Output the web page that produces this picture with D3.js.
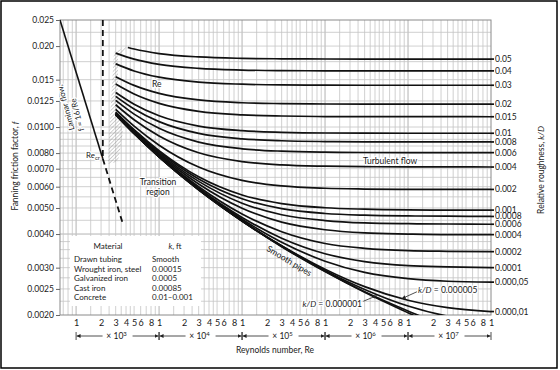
<!DOCTYPE html>
<html>
<head>
<meta charset="utf-8">
<style>
    body, html {
        margin: 0;
        padding: 0;
        background: #fff;
    }
    svg { display: block; }
    text {
        font-family: Lato, "Open Sans", "DejaVu Sans", sans-serif;
        fill: #1a1a1a;
    }
    .halo {
        stroke: #fff;
        stroke-width: 2.5px;
        paint-order: stroke;
        stroke-linejoin: round;
    }
</style>
</head>
<body>
<svg width="560" height="370"></svg>

<script src="https://cdn.jsdelivr.net/npm/d3@7/dist/d3.min.js"></script>
<script>
    var reGrid    = [3000, 5000, 1e4, 3e4, 1e5, 3e5, 1e6, 3e6, 1e7, 3e7, 1e8];
    var reGridTop = [4200, 5000, 1e4, 3e4, 1e5, 3e5, 1e6, 3e6, 1e7, 3e7, 1e8];

    // relative roughness labels (right side), top curve first
    var roughnessLabels = ["0.05", "0.04", "0.03", "0.02", "0.015", "0.01", "0.008", "0.006",
        "0.004", "0.002", "0.001", "0.0008", "0.0006", "0.0004", "0.0002", "0.0001",
        "0.000,05", "0.000,01"];

    // Fanning friction factor read along reGrid for each curve
    var frictionCurves = [
        [0.01976, 0.01950, 0.01876, 0.01822, 0.01800, 0.01793, 0.01790, 0.01789, 0.01789, 0.01789, 0.01789], // 0.05
        [0.01883, 0.01788, 0.01710, 0.01652, 0.01629, 0.01621, 0.01618, 0.01617, 0.01617, 0.01617, 0.01617], // 0.04
        [0.01717, 0.01616, 0.01532, 0.01468, 0.01443, 0.01434, 0.01431, 0.01430, 0.01430, 0.01430, 0.01430], // 0.03
        [0.01539, 0.01428, 0.01334, 0.01261, 0.01231, 0.01222, 0.01218, 0.01217, 0.01216, 0.01216, 0.01216], // 0.02
        [0.01444, 0.01326, 0.01224, 0.01143, 0.01110, 0.01099, 0.01094, 0.01093, 0.01093, 0.01093, 0.01092], // 0.015
        [0.01343, 0.01215, 0.01101, 0.01008, 0.00969, 0.00956, 0.00950, 0.00949, 0.00948, 0.00948, 0.00948], // 0.01
        [0.01300, 0.01167, 0.01047, 0.00947, 0.00904, 0.00889, 0.00883, 0.00881, 0.00880, 0.00880, 0.00880], // 0.008
        [0.01256, 0.01117, 0.00989, 0.00879, 0.00830, 0.00813, 0.00806, 0.00804, 0.00803, 0.00803, 0.00803], // 0.006
        [0.01210, 0.01064, 0.00926, 0.00802, 0.00744, 0.00723, 0.00715, 0.00712, 0.00711, 0.00711, 0.00710], // 0.004
        [0.01162, 0.01007, 0.00856, 0.00710, 0.00633, 0.00604, 0.00592, 0.00588, 0.00586, 0.00586, 0.00586], // 0.002
        [0.01137, 0.00977, 0.00817, 0.00653, 0.00559, 0.00519, 0.00501, 0.00495, 0.00492, 0.00491, 0.00491], // 0.001
        [0.01132, 0.00971, 0.00809, 0.00641, 0.00541, 0.00497, 0.00477, 0.00470, 0.00467, 0.00466, 0.00465], // 0.0008
        [0.01127, 0.00965, 0.00800, 0.00628, 0.00521, 0.00472, 0.00449, 0.00440, 0.00437, 0.00436, 0.00435], // 0.0006
        [0.01122, 0.00959, 0.00792, 0.00614, 0.00499, 0.00443, 0.00415, 0.00404, 0.00400, 0.00398, 0.00398], // 0.0004
        [0.01117, 0.00952, 0.00783, 0.00600, 0.00475, 0.00408, 0.00369, 0.00354, 0.00347, 0.00345, 0.00344], // 0.0002
        [0.01114, 0.00949, 0.00779, 0.00592, 0.00461, 0.00386, 0.00338, 0.00316, 0.00305, 0.00302, 0.00300], // 0.0001
        [0.01113, 0.00948, 0.00777, 0.00588, 0.00454, 0.00373, 0.00317, 0.00288, 0.00273, 0.00267, 0.00265], // 0.00005
        [0.01112, 0.00946, 0.00775, 0.00585, 0.00448, 0.00362, 0.00296, 0.00255, 0.00227, 0.00213, 0.00206], // 0.00001
        [0.01112, 0.00946, 0.00774, 0.00585, 0.00447, 0.00361, 0.00293, 0.00249, 0.00216, 0.00198, 0.00188], // 0.000005
        [0.01112, 0.00946, 0.00774, 0.00584, 0.00447, 0.00360, 0.00291, 0.00244, 0.00207, 0.00181, 0.00163], // 0.000001
        [0.01112, 0.00946, 0.00774, 0.00584, 0.00447, 0.00359, 0.00290, 0.00243, 0.00204, 0.00175, 0.00151]  // smooth
    ];

    // laminar flow f = 16/Re, solid up to Re_cr, dashed beyond
    var laminarRe = [640, 2100];
    var laminarF = [0.025, 0.00762];
    var laminarDashRe = [2100, 3600];
    var laminarDashF = [0.00762, 0.00444];
    var criticalRe = 2100;

    // critical zone (hatched)
    var hatchRe = [2860, 4100, 3200, 3200, 3670, 3200, 2420, 2560];
    var hatchF = [0.0190, 0.0199, 0.01806, 0.01138, 0.00959, 0.00742, 0.00729, 0.01062];

    var yTickValues = [0.025, 0.02, 0.015, 0.0125, 0.01, 0.008, 0.007, 0.006, 0.005, 0.004, 0.003, 0.0025, 0.002];
    var yTickLabels = ["0.025", "0.020", "0.015", "0.0125", "0.0100", "0.0080", "0.0070", "0.0060",
        "0.0050", "0.0040", "0.0030", "0.0025", "0.0020"];

    var xDecades = [3, 4, 5, 6, 7];
    var xTickDigits = [1, 2, 3, 4, 5, 6, 8];

    var materials = ["Drawn tubing", "Wrought iron, steel", "Galvanized iron", "Cast iron", "Concrete"];
    var materialK = ["Smooth", "0.00015", "0.0005", "0.00085", "0.01\u20130.001"];

    var svg = d3.select("svg");
    var pLeft = 60, pRight = 491, pTop = 20, pBottom = 315;

    var x = d3.scaleLog().domain([640, 1e8]).range([pLeft, pRight]);
    var y = d3.scaleLog().domain([0.002, 0.025]).range([pBottom, pTop]);

    var defs = svg.append("defs");
    defs.append("clipPath").attr("id", "plotclip")
        .append("rect").attr("x", pLeft).attr("y", pTop - 2)
        .attr("width", pRight - pLeft).attr("height", pBottom - pTop + 2);

    var pat = defs.append("pattern").attr("id", "hatch")
        .attr("patternUnits", "userSpaceOnUse")
        .attr("width", 2.6).attr("height", 2.6)
        .attr("patternTransform", "rotate(45)");
    pat.append("line").attr("x1", 0).attr("y1", 0).attr("x2", 0).attr("y2", 2.6)
        .attr("stroke", "#8c8c8c").attr("stroke-width", 0.8);

    defs.append("marker").attr("id", "arr")
        .attr("viewBox", "0 0 6 6").attr("refX", 6).attr("refY", 3)
        .attr("markerWidth", 5).attr("markerHeight", 5).attr("orient", "auto")
        .append("path").attr("d", "M0,0L6,3L0,6Z").attr("fill", "#222");

    // ---------- GRID ----------
    var gridMult = [1, 1.5, 2, 2.5, 3, 3.5, 4, 4.5, 5, 6, 7, 8, 9];
    var gridRe = [];
    [1e2, 1e3, 1e4, 1e5, 1e6, 1e7].forEach(function(dec) {
        gridMult.forEach(function(m) {
            var v = dec * m;
            if (v > 640 && v < 1e8) gridRe.push(v);
        });
    });
    var gridF = d3.range(0.00225, 0.004, 0.00025)
        .concat(d3.range(0.004, 0.01, 0.0005), d3.range(0.01, 0.0249, 0.0025));

    var grid = svg.append("g");
    grid.selectAll(".gx").data(gridRe).enter().append("line")
        .attr("x1", function(d) { return x(d); }).attr("x2", function(d) { return x(d); })
        .attr("y1", pTop).attr("y2", pBottom)
        .attr("stroke", function(d) { return Math.abs(Math.log10(d) % 1) < 1e-6 ? "#a0a0a0" : "#c4c4c4"; })
        .attr("stroke-width", 0.8);
    grid.selectAll(".gy").data(gridF).enter().append("line")
        .attr("x1", pLeft).attr("x2", pRight)
        .attr("y1", function(d) { return y(d); }).attr("y2", function(d) { return y(d); })
        .attr("stroke", "#c4c4c4").attr("stroke-width", 0.8);

    // plot frame
    svg.append("rect").attr("x", pLeft).attr("y", pTop)
        .attr("width", pRight - pLeft).attr("height", pBottom - pTop)
        .attr("fill", "none").attr("stroke", "#8a8a8a").attr("stroke-width", 1);

    // ---------- AXES ----------
    var yAxis = d3.axisLeft(y).tickValues(yTickValues)
        .tickFormat(function(d, i) { return yTickLabels[i]; })
        .tickSize(4).tickPadding(2);
    var gy = svg.append("g").attr("transform", "translate(" + pLeft + ",0)").call(yAxis);
    gy.select(".domain").remove();
    gy.selectAll(".tick line").attr("stroke", "#666");
    gy.selectAll(".tick text").attr("font-size", "8.5px").attr("fill", "#222")
        .style("font-family", "Lato, 'Open Sans', sans-serif");

    var xTickValues = [];
    xDecades.forEach(function(n) {
        xTickDigits.forEach(function(dg) { xTickValues.push(dg * Math.pow(10, n)); });
    });
    xTickValues.push(1e8);

    var xAxis = d3.axisBottom(x).tickValues(xTickValues)
        .tickFormat(function(d) { return String(Math.round(d / Math.pow(10, Math.floor(Math.log10(d) + 1e-9)))); })
        .tickSize(0).tickPadding(5);
    var gx = svg.append("g").attr("transform", "translate(0," + pBottom + ")").call(xAxis);
    gx.select(".domain").remove();
    gx.selectAll(".tick text").attr("font-size", "9px").attr("fill", "#222")
        .style("font-family", "Lato, 'Open Sans', sans-serif");

    // decade brackets "x 10^n"
    var brk = svg.append("g");
    var by = 336;
    xDecades.forEach(function(n) {
        var x0 = x(Math.pow(10, n)), x1 = x(Math.pow(10, n + 1)), cx = (x0 + x1) / 2;
        brk.append("line").attr("x1", x0).attr("x2", x0).attr("y1", by - 4).attr("y2", by + 4)
            .attr("stroke", "#222").attr("stroke-width", 0.8);
        brk.append("line").attr("x1", x1).attr("x2", x1).attr("y1", by - 4).attr("y2", by + 4)
            .attr("stroke", "#222").attr("stroke-width", 0.8);
        brk.append("line").attr("x1", cx - 15).attr("x2", x0 + 0.5).attr("y1", by).attr("y2", by)
            .attr("stroke", "#222").attr("stroke-width", 0.8).attr("marker-end", "url(#arr)");
        brk.append("line").attr("x1", cx + 15).attr("x2", x1 - 0.5).attr("y1", by).attr("y2", by)
            .attr("stroke", "#222").attr("stroke-width", 0.8).attr("marker-end", "url(#arr)");
        var t = brk.append("text").attr("x", cx - 1).attr("y", by + 3)
            .attr("text-anchor", "middle").attr("font-size", "8.5px");
        t.append("tspan").text("\u00d7 10");
        t.append("tspan").attr("dy", -3.5).attr("font-size", "6px").text(n);
    });

    // axis titles
    svg.append("text").attr("x", 275).attr("y", 353).attr("text-anchor", "middle")
        .attr("font-size", "8.5px").text("Reynolds number, Re");

    var yt = svg.append("text").attr("transform", "translate(18,166) rotate(-90)")
        .attr("text-anchor", "middle").attr("font-size", "8.5px");
    yt.append("tspan").text("Fanning friction factor, ");
    yt.append("tspan").attr("font-style", "italic").text("f");

    var rt = svg.append("text").attr("transform", "translate(544,170) rotate(-90)")
        .attr("text-anchor", "middle").attr("font-size", "8.5px");
    rt.append("tspan").text("Relative roughness, ");
    rt.append("tspan").attr("font-style", "italic").text("k/D");

    // ---------- MARKS ----------
    var plot = svg.append("g").attr("clip-path", "url(#plotclip)");

    plot.append("polygon")
        .attr("points", hatchRe.map(function(r, i) { return x(r) + "," + y(hatchF[i]); }).join(" "))
        .attr("fill", "url(#hatch)").attr("stroke", "none");

    var line = d3.line()
        .x(function(d) { return x(d[0]); })
        .y(function(d) { return y(d[1]); })
        .curve(d3.curveMonotoneX);

    plot.selectAll(".curve").data(frictionCurves).enter().append("path")
        .attr("d", function(vals, i) {
            var res = i === 0 ? reGridTop : reGrid;
            return line(vals.map(function(f, j) { return [res[j], f]; }));
        })
        .attr("fill", "none").attr("stroke", "#111").attr("stroke-width", 1.7);

    // laminar line
    plot.append("path")
        .attr("d", d3.line()(laminarRe.map(function(r, i) { return [x(r), y(laminarF[i])]; })))
        .attr("fill", "none").attr("stroke", "#111").attr("stroke-width", 1.6);
    plot.append("path")
        .attr("d", d3.line()(laminarDashRe.map(function(r, i) { return [x(r), y(laminarDashF[i])]; })))
        .attr("fill", "none").attr("stroke", "#111").attr("stroke-width", 1.8)
        .attr("stroke-dasharray", "6,4");
    plot.append("line")
        .attr("x1", x(criticalRe)).attr("x2", x(criticalRe))
        .attr("y1", y(0.025)).attr("y2", y(laminarF[1]))
        .attr("stroke", "#111").attr("stroke-width", 1.8).attr("stroke-dasharray", "6,4");

    // right-hand ticks and labels
    var rl = svg.append("g");
    roughnessLabels.forEach(function(lab, i) {
        var f = frictionCurves[i][frictionCurves[i].length - 1];
        rl.append("line").attr("x1", pRight).attr("x2", pRight + 3)
            .attr("y1", y(f)).attr("y2", y(f)).attr("stroke", "#111").attr("stroke-width", 1.7);
        rl.append("text").attr("x", pRight + 4).attr("y", y(f)).attr("dy", "0.35em")
            .attr("font-size", "8.5px").text(lab);
    });

    // ---------- ANNOTATIONS ----------
    var ann = svg.append("g").attr("font-size", "8.5px");

    ann.append("text").attr("class", "halo")
        .attr("transform", "translate(" + x(750) + "," + y(0.0118) + ") rotate(-105)")
        .attr("text-anchor", "middle").attr("dy", "0.35em").attr("font-size", "8px").text("Laminar flow,");
    ann.append("text").attr("class", "halo")
        .attr("transform", "translate(" + x(1030) + "," + y(0.0111) + ") rotate(-105)")
        .attr("text-anchor", "middle").attr("dy", "0.35em").attr("font-size", "8px").text("f = 16/Re");

    var rc = ann.append("text").attr("class", "halo")
        .attr("x", x(1316)).attr("y", y(0.0077)).attr("font-size", "8px");
    rc.append("tspan").text("Re");
    rc.append("tspan").attr("dy", 2).attr("font-size", "6px").text("cr");

    ann.append("text").attr("class", "halo")
        .attr("x", x(8200)).attr("y", y(0.01445)).attr("dy", "0.35em").text("Re");

    ann.append("text").attr("class", "halo")
        .attr("x", x(9700)).attr("y", y(0.00609)).attr("text-anchor", "middle").text("Transition");
    ann.append("text").attr("class", "halo")
        .attr("x", x(9700)).attr("y", y(0.00559)).attr("text-anchor", "middle").text("region");

    ann.append("text").attr("class", "halo")
        .attr("x", x(2.86e6)).attr("y", y(0.0075)).attr("dy", "0.35em").text("Turbulent flow");

    ann.append("text")
        .attr("transform", "translate(" + x(3.7e5) + "," + y(0.00318) + ") rotate(31)")
        .attr("text-anchor", "middle").attr("dy", "0.35em").text("Smooth pipes");

    var k1 = ann.append("text").attr("class", "halo")
        .attr("x", x(2.79e6)).attr("y", y(0.0022)).attr("text-anchor", "end").attr("dy", "0.35em");
    k1.append("tspan").attr("font-style", "italic").text("k/D");
    k1.append("tspan").text(" = 0.000001");
    ann.append("line").attr("x1", x(2.9e6)).attr("y1", y(0.00225))
        .attr("x2", x(4.2e6)).attr("y2", y(0.00236))
        .attr("stroke", "#222").attr("stroke-width", 0.8).attr("marker-end", "url(#arr)");

    var k5 = ann.append("text").attr("class", "halo")
        .attr("x", x(1.32e7)).attr("y", y(0.00248)).attr("dy", "0.35em");
    k5.append("tspan").attr("font-style", "italic").text("k/D");
    k5.append("tspan").text(" = 0.000005");
    ann.append("line").attr("x1", x(1.28e7)).attr("y1", y(0.00244))
        .attr("x2", x(8.4e6)).attr("y2", y(0.00230))
        .attr("stroke", "#222").attr("stroke-width", 0.8).attr("marker-end", "url(#arr)");

    // ---------- MATERIAL TABLE ----------
    var tbl = svg.append("g").attr("font-size", "8px");
    tbl.append("rect").attr("x", 70).attr("y", 236).attr("width", 131).attr("height", 70)
        .attr("fill", "#fff");
    tbl.append("text").attr("x", 108).attr("y", 249).attr("text-anchor", "middle").text("Material");
    var kh = tbl.append("text").attr("x", 175).attr("y", 249).attr("text-anchor", "middle");
    kh.append("tspan").attr("font-style", "italic").text("k");
    kh.append("tspan").text(", ft");
    materials.forEach(function(m, i) {
        tbl.append("text").attr("x", 74).attr("y", 262 + i * 9.5).text(m);
        tbl.append("text").attr("x", 152).attr("y", 262 + i * 9.5).text(materialK[i]);
    });

    // outer frame
    svg.append("rect").attr("x", 1).attr("y", 1).attr("width", 556).attr("height", 367)
        .attr("fill", "none").attr("stroke", "#000").attr("stroke-width", 1.5);
</script>
</body>
</html>
